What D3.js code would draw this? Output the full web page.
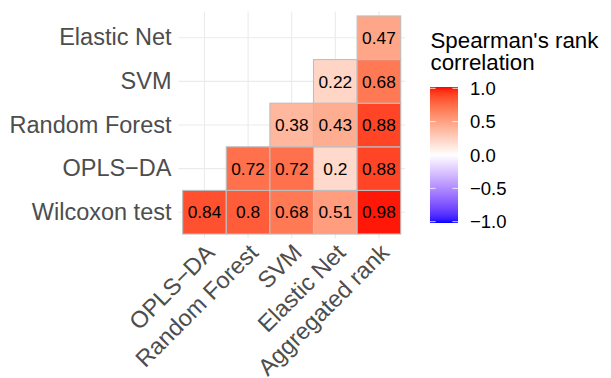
<!DOCTYPE html>
<html>
<head>
<meta charset="utf-8">
<script src="https://cdn.jsdelivr.net/npm/d3@7"></script>
<style>
  html, body { margin: 0; padding: 0; background: #fff; }
  svg { display: block; font-family: "Liberation Sans", Arial, Helvetica, sans-serif; }
</style>
</head>
<body>
<svg id="chart" width="611" height="378"></svg>
<script>
// ---- data ----
const xCategories = ["OPLS−DA", "Random Forest", "SVM", "Elastic Net", "Aggregated rank"];
const yCategories = ["Wilcoxon test", "OPLS−DA", "Random Forest", "SVM", "Elastic Net"]; // bottom to top
const rowWilcoxon     = [0.84, 0.80, 0.68, 0.51, 0.98];
const rowOPLSDA       = [null, 0.72, 0.72, 0.20, 0.88];
const rowRandomForest = [null, null, 0.38, 0.43, 0.88];
const rowSVM          = [null, null, null, 0.22, 0.68];
const rowElasticNet   = [null, null, null, null, 0.47];
const valueLabels = [
  ["0.84", "0.8", "0.68", "0.51", "0.98"],
  [null, "0.72", "0.72", "0.2", "0.88"],
  [null, null, "0.38", "0.43", "0.88"],
  [null, null, null, "0.22", "0.68"],
  [null, null, null, null, "0.47"]
];
const legendTicks = [-1, -0.5, 0, 0.5, 1];
const legendTickLabels = ["−1.0", "−0.5", "0.0", "0.5", "1.0"];
const legendTitle = ["Spearman's rank", "correlation"];

const rows = [rowWilcoxon, rowOPLSDA, rowRandomForest, rowSVM, rowElasticNet];
const cells = [];
rows.forEach((r, i) => r.forEach((v, j) => {
  if (v !== null) cells.push({ y: yCategories[i], x: xCategories[j], v: v, label: valueLabels[i][j] });
}));

// ---- layout ----
const svg = d3.select("#chart");
const panel = { left: 178.3, right: 405.1, top: 11.6, bottom: 238.4 };
const FONT = "Liberation Sans, Arial, sans-serif";

const x = d3.scaleBand().domain(xCategories).range([panel.left, panel.right]).paddingInner(0).paddingOuter(0.1);
const y = d3.scaleBand().domain(yCategories).range([panel.bottom, panel.top]).paddingInner(0).paddingOuter(0.1);
const color = d3.scaleLinear().domain([-1, 0, 1]).range(["#0000FF", "#FFFFFF", "#FF0000"]).interpolate(d3.interpolateLab);

// grid
const grid = svg.append("g");
grid.selectAll("line.v").data(xCategories).join("line")
  .attr("x1", d => x(d) + x.bandwidth() / 2).attr("x2", d => x(d) + x.bandwidth() / 2)
  .attr("y1", panel.top).attr("y2", panel.bottom)
  .attr("stroke", "#EBEBEB").attr("stroke-width", 1.1);
grid.selectAll("line.h").data(yCategories).join("line")
  .attr("y1", d => y(d) + y.bandwidth() / 2).attr("y2", d => y(d) + y.bandwidth() / 2)
  .attr("x1", panel.left).attr("x2", panel.right)
  .attr("stroke", "#EBEBEB").attr("stroke-width", 1.1);

// tiles
svg.append("g").selectAll("rect").data(cells).join("rect")
  .attr("x", d => x(d.x)).attr("y", d => y(d.y))
  .attr("width", x.bandwidth()).attr("height", y.bandwidth())
  .attr("fill", d => color(d.v))
  .attr("stroke", "#BEBEBE").attr("stroke-width", 1.1);

svg.append("g").selectAll("text").data(cells).join("text")
  .attr("x", d => x(d.x) + x.bandwidth() / 2)
  .attr("y", d => y(d.y) + y.bandwidth() / 2)
  .attr("dy", "0.36em")
  .attr("text-anchor", "middle")
  .attr("font-size", 17.3)
  .attr("font-family", FONT)
  .attr("fill", "#000")
  .text(d => d.label);

// y axis
const yAxis = d3.axisLeft(y).tickSize(0).tickPadding(6.8);
const gy = svg.append("g").attr("transform", `translate(${panel.left},0)`).call(yAxis);
gy.select(".domain").remove();
gy.selectAll("text").attr("font-size", 23.5).attr("fill", "#4D4D4D").attr("font-family", FONT);

// x axis
const xAxis = d3.axisBottom(x).tickSize(0).tickPadding(0);
const gx = svg.append("g").attr("transform", `translate(0,${panel.bottom})`).call(xAxis);
gx.select(".domain").remove();
gx.selectAll("text")
  .attr("font-size", 23.5).attr("fill", "#4D4D4D").attr("font-family", FONT)
  .attr("text-anchor", "end")
  .attr("y", 0).attr("dy", "0.7em")
  .attr("transform", "translate(0,4) rotate(-45)");

// legend
const leg = svg.append("g");
const title = leg.append("text").attr("font-size", 22.3).attr("fill", "#000").attr("font-family", FONT);
title.selectAll("tspan").data(legendTitle).join("tspan")
  .attr("x", 430.5).attr("y", (d, i) => 47.7 + i * 22.4)
  .text(d => d);

const barX = 430, barW = 28, barTop = 87, barBottom = 223;
const defs = svg.append("defs");
const grad = defs.append("linearGradient").attr("id", "cbar")
  .attr("x1", 0).attr("y1", 1).attr("x2", 0).attr("y2", 0);
const stopVals = d3.range(0, 41).map(i => -1 + i * 0.05);
grad.selectAll("stop").data(stopVals).join("stop")
  .attr("offset", d => (d + 1) / 2)
  .attr("stop-color", d => color(d));
leg.append("rect").attr("x", barX).attr("y", barTop).attr("width", barW).attr("height", barBottom - barTop)
  .attr("fill", "url(#cbar)");

const ly = d3.scaleLinear().domain([-1, 1]).range([221.7, 88.3]);
leg.selectAll("line.tl").data(legendTicks).join("line")
  .attr("x1", barX).attr("x2", barX + 5.6)
  .attr("y1", d => ly(d)).attr("y2", d => ly(d))
  .attr("stroke", "#fff").attr("stroke-opacity", 0.8).attr("stroke-width", 1);
leg.selectAll("line.tr").data(legendTicks).join("line")
  .attr("x1", barX + barW - 5.6).attr("x2", barX + barW)
  .attr("y1", d => ly(d)).attr("y2", d => ly(d))
  .attr("stroke", "#fff").attr("stroke-opacity", 0.8).attr("stroke-width", 1);
leg.selectAll("text.lab").data(legendTicks).join("text")
  .attr("x", 470).attr("y", d => ly(d)).attr("dy", "0.36em")
  .attr("font-size", 18.5).attr("fill", "#000").attr("font-family", FONT)
  .text((d, i) => legendTickLabels[i]);
</script>
</body>
</html>
